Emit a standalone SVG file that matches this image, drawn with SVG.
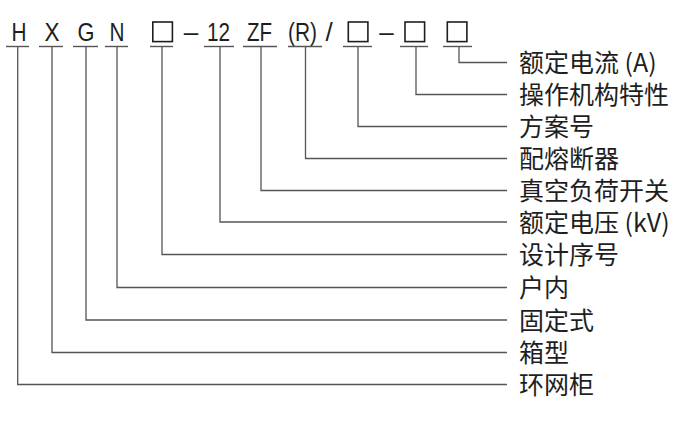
<svg xmlns="http://www.w3.org/2000/svg" width="700" height="432" viewBox="0 0 700 432">
<style>
.code{font-family:"Liberation Sans","DejaVu Sans",sans-serif;font-size:26px;fill:#1e1e1e;text-anchor:middle}
.lbl{font-family:"Noto Sans CJK SC","Noto Sans",sans-serif;font-size:25px;fill:#1e1e1e}
.box{fill:none;stroke:#1e1e1e;stroke-width:1.6}
.ul{stroke:#555;stroke-width:1.4;fill:none}
.con{stroke:#555;stroke-width:1.3;fill:none}
</style>
<rect width="700" height="432" fill="#ffffff"/>
<g id="code">
  <g id="c-H"><text class="code" x="19" y="41" textLength="15" lengthAdjust="spacingAndGlyphs">H</text><line class="ul" x1="6" y1="46.5" x2="29" y2="46.5"/></g>
  <g id="c-X"><text class="code" x="52" y="41" textLength="15" lengthAdjust="spacingAndGlyphs">X</text><line class="ul" x1="39" y1="46.5" x2="63" y2="46.5"/></g>
  <g id="c-G"><text class="code" x="86" y="41" textLength="17" lengthAdjust="spacingAndGlyphs">G</text><line class="ul" x1="73" y1="46.5" x2="98" y2="46.5"/></g>
  <g id="c-N"><text class="code" x="117" y="41" textLength="15" lengthAdjust="spacingAndGlyphs">N</text><line class="ul" x1="105" y1="46.5" x2="128" y2="46.5"/></g>
  <g id="c-box1"><rect class="box" x="152.8" y="22" width="19.6" height="19.6"/><line class="ul" x1="150" y1="46.5" x2="173" y2="46.5"/></g>
  <g id="c-dash1"><text class="code" x="191" y="41">–</text></g>
  <g id="c-12"><text class="code" x="218.5" y="41" textLength="23" lengthAdjust="spacingAndGlyphs">12</text><line class="ul" x1="204" y1="46.5" x2="234" y2="46.5"/></g>
  <g id="c-ZF"><text class="code" x="259.5" y="41" textLength="25" lengthAdjust="spacingAndGlyphs">ZF</text><line class="ul" x1="243" y1="46.5" x2="277" y2="46.5"/></g>
  <g id="c-R"><text class="code" x="302.5" y="41" textLength="29" lengthAdjust="spacingAndGlyphs">(R)</text><line class="ul" x1="288" y1="46.5" x2="322" y2="46.5"/></g>
  <g id="c-slash"><text class="code" x="329" y="41">/</text></g>
  <g id="c-box2"><rect class="box" x="348.3" y="22" width="19.6" height="19.6"/><line class="ul" x1="343" y1="46.5" x2="372" y2="46.5"/></g>
  <g id="c-dash2"><text class="code" x="386.5" y="41">–</text></g>
  <g id="c-box3"><rect class="box" x="405" y="22" width="19.6" height="19.6"/><line class="ul" x1="400" y1="46.5" x2="428" y2="46.5"/></g>
  <g id="c-box4"><rect class="box" x="447.3" y="22" width="19.6" height="19.6"/><line class="ul" x1="443" y1="46.5" x2="472" y2="46.5"/></g>
</g>
<g id="connectors">
  <polyline class="con" points="459,46.5 459,62.5 507,62.5"/>
  <polyline class="con" points="416,46.5 416,94.5 507,94.5"/>
  <polyline class="con" points="358,46.5 358,126.5 507,126.5"/>
  <polyline class="con" points="305.5,46.5 305.5,158.5 507,158.5"/>
  <polyline class="con" points="261,46.5 261,190.5 507,190.5"/>
  <polyline class="con" points="220,46.5 220,222 507,222"/>
  <polyline class="con" points="162,46.5 162,254.5 507,254.5"/>
  <polyline class="con" points="117,46.5 117,287.5 507,287.5"/>
  <polyline class="con" points="86,46.5 86,320 507,320"/>
  <polyline class="con" points="52,46.5 52,352.5 507,352.5"/>
  <polyline class="con" points="17.7,46.5 17.7,384.5 507,384.5"/>
</g>
<g id="labels">
  <g id="l-current"><text class="lbl" x="519" y="72">额定电流 (A)</text></g>
  <g id="l-mech"><text class="lbl" x="519" y="104">操作机构特性</text></g>
  <g id="l-scheme"><text class="lbl" x="519" y="136">方案号</text></g>
  <g id="l-fuse"><text class="lbl" x="519" y="168">配熔断器</text></g>
  <g id="l-switch"><text class="lbl" x="519" y="200">真空负荷开关</text></g>
  <g id="l-voltage"><text class="lbl" x="519" y="231.5">额定电压 (kV)</text></g>
  <g id="l-design"><text class="lbl" x="519" y="264">设计序号</text></g>
  <g id="l-indoor"><text class="lbl" x="519" y="297">户内</text></g>
  <g id="l-fixed"><text class="lbl" x="519" y="329.5">固定式</text></g>
  <g id="l-box"><text class="lbl" x="519" y="362">箱型</text></g>
  <g id="l-ring"><text class="lbl" x="519" y="394">环网柜</text></g>
</g>
</svg>
